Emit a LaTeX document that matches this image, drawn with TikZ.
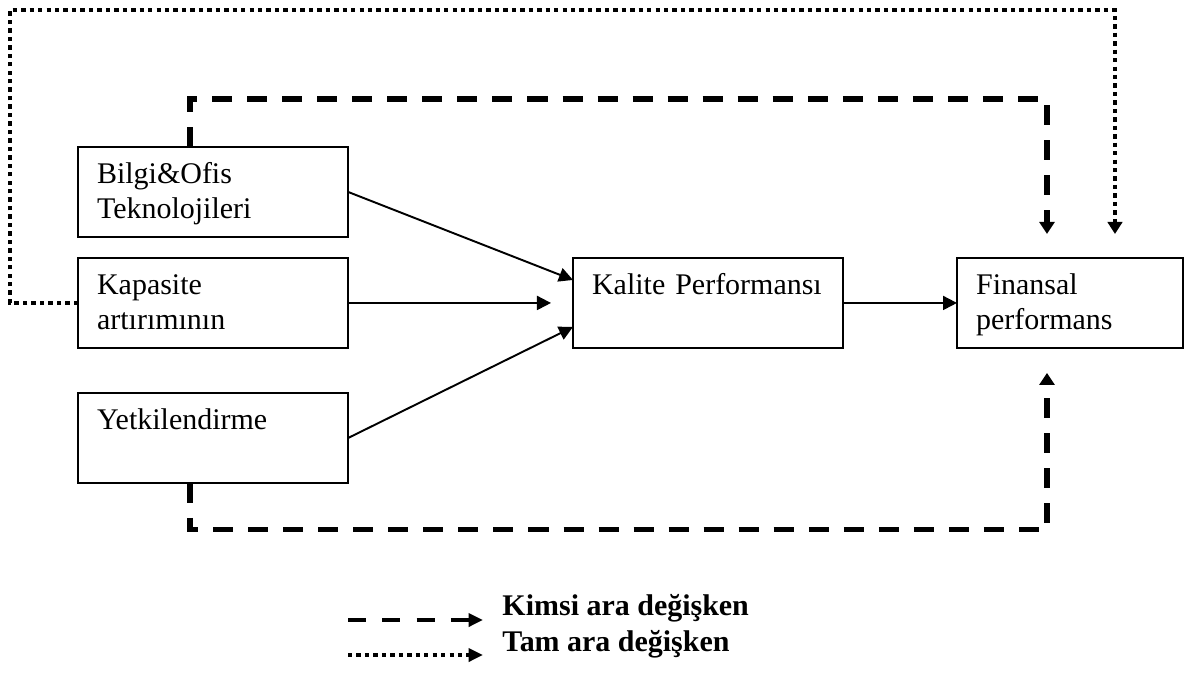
\documentclass[tikz,border=0pt]{standalone}
\usepackage{fontspec}
\setmainfont{Liberation Serif}
\usetikzlibrary{arrows.meta,calc}

\begin{document}
\begin{tikzpicture}[x=0.4138pt, y=0.4138pt, font=\fontsize{12.4}{14.1}\selectfont,
  kutu/.style={draw, line width=0.8pt, anchor=north west, align=left, outer sep=0pt,
    inner xsep=7.9pt, inner ysep=0pt, text width=96pt, text height=15.3pt, text depth=21.9pt},
  ok/.style={line width=0.8pt, -{Triangle[length=5.8pt, width=5.8pt]}},
  kesik/.style={line width=2.1pt, dash pattern=on 8.3pt off 6.2pt, -{Triangle[length=5pt, width=6.2pt]}},
  nokta/.style={line width=1.8pt, dash pattern=on 1.8pt off 1.7pt, -{Triangle[length=5pt, width=6pt]}},
  yazi/.style={anchor=base west, inner sep=0pt, font=\fontsize{12.4}{14.1}\selectfont\bfseries}]
\useasboundingbox (0,0) rectangle (1189,-677);

% kutular
\node[kutu] (bilgi) at (78,-147) {Bilgi\&Ofis\\Teknolojileri};
\node[kutu] (kapasite) at (78,-258) {Kapasite\\artırımının};
\node[kutu] (yetki) at (78,-393) {Yetkilendirme};
\node[kutu] (kalite) at (573,-258) {Kalite Performansı};
\node[kutu, text width=77.7pt] (finansal) at (957,-258) {Finansal\\performans};

% dogrudan etkiler
\coordinate (kapok) at ($(kalite.west)+(-22,0)$);
\draw[ok] (bilgi.east) -- ($(kalite.west)+(0,23)$);
\draw[ok] (kapasite.east) -- (kapok);
\draw[ok] (yetki.east) -- ($(kalite.west)+(0,-24)$);
\draw[ok] (kalite) -- (finansal);

% ara degisken yollari
\draw[kesik] ($(bilgi.north west)+(112,0)$) |- ($(finansal.north)+(-23,159)$) -- ($(finansal.north)+(-23,24)$);
\draw[kesik] ($(yetki.south west)+(112,0)$) |- ($(finansal.south)+(-23,-182)$) -- ($(finansal.south)+(-23,-25)$);
\draw[nokta] (kapasite.west) -| (10,-10) -| ($(finansal.north)+(45,24)$);

% aciklama
\node[yazi] (kimsi) at (502,-615) {Kimsi ara değişken};
\node[yazi] (tam) at (502,-651) {Tam ara değişken};
\coordinate (k0) at (348,-620);
\coordinate (t0) at (348,-655);
\draw[kesik, line width=2pt, dash pattern=on 7.4pt off 6.8pt, -{Triangle[length=6pt, width=5.4pt]}] (k0) -- ($(kimsi.base west)+(-19,-5)$);
\draw[nokta, -{Triangle[length=6pt, width=5.4pt]}] (t0) -- ($(tam.base west)+(-19,-4)$);
\end{tikzpicture}
\end{document}
